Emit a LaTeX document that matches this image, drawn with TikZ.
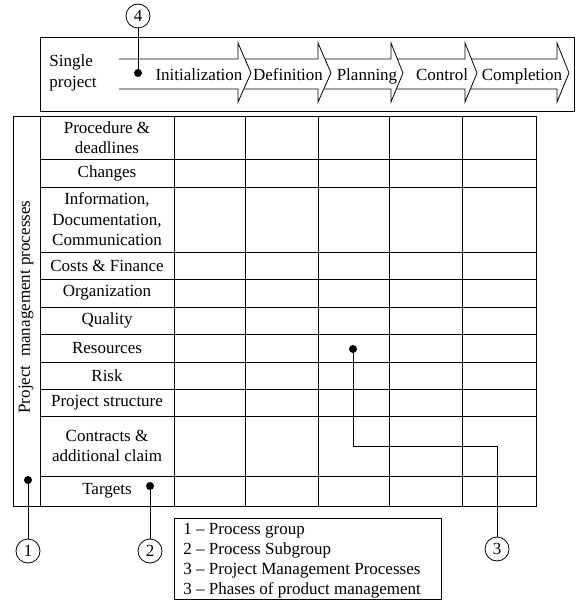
\documentclass[tikz,border=0pt]{standalone}
\usepackage{fontspec}
\setmainfont{Liberation Serif}
\begin{document}
\begin{tikzpicture}[x=1pt,y=-1pt, line width=0.8pt,
  txt/.style={font=\fontsize{17}{20.5}\selectfont, inner sep=0pt},
  cell/.style={txt, align=center},
  num/.style={circle, draw, minimum size=24pt, inner sep=0pt, font=\fontsize{17}{20}\selectfont},
  dot/.style={circle, fill, minimum size=8pt, inner sep=0pt},
  wire/.style={line width=0.8pt},
  arr/.style={draw, fill=white, line width=0.8pt, line join=miter}]
\useasboundingbox (0,0) rectangle (575,601);
% top box
\draw (40,37) rectangle (574,111);
% phase arrows (right to left so each head covers next tail)
\path[arr] (465,59) -- (557,59) -- (557,43) -- (569,73) -- (557,102) -- (557,89) -- (465,89);
\path[arr] (391,59) -- (465,59) -- (465,43) -- (477,73) -- (465,102) -- (465,89) -- (391,89);
\path[arr] (318,59) -- (391,59) -- (391,43) -- (403,73) -- (391,102) -- (391,89) -- (318,89);
\path[arr] (238,59) -- (318,59) -- (318,43) -- (331,73) -- (318,102) -- (318,89) -- (238,89);
\path[arr] (119,59) -- (238,59) -- (238,43) -- (251,73) -- (238,102) -- (238,89) -- (119,89);
\node[txt, anchor=base] (init) at (199,81) {Initialization};
\node[txt, anchor=base] (defn) at (288,81) {Definition};
\node[txt, anchor=base] (plan) at (367,81) {Planning};
\node[txt, anchor=base] (ctrl) at (442,81) {Control};
\node[txt, anchor=base] (compl) at (522,81) {Completion};
\node[txt, align=left, anchor=west] (sp) at (49,73) {Single\\project};
% table
\draw (13,116) rectangle (536,506);
\draw (40,116) -- (40,506);
\foreach \x in {174,245,318,389,462} \draw (\x,116) -- (\x,506);
\foreach \y in {159,187,252,279,307,334,362,389,416,476} \draw (40,\y) -- (536,\y);
\node[txt, rotate=90] (pmp) at (26,307) {Project\ \ management processes};
\node[cell] (r1) at (107,137.5) {Procedure \&\\deadlines};
\node[cell] (r2) at (107,173) {Changes};
\node[cell] (r3) at (107,219.5) {Information,\\Documentation,\\Communication};
\node[cell] (r4) at (107,265.5) {Costs \& Finance};
\node[cell] (r5) at (107,293) {Organization};
\node[cell] (r6) at (107,320.5) {Quality};
\node[cell] (r7) at (107,348) {Resources};
\node[cell] (r8) at (107,375.5) {Risk};
\node[cell] (r9) at (107,402.5) {Project structure};
\node[cell] (r10) at (107,446) {Contracts \&\\additional claim};
\node[cell] (r11) at (107,491) {Targets};
% markers
\node[dot] (d1) at (28,480) {};
\node[dot] (d2) at (150,486) {};
\node[dot] (d3) at (353,349) {};
\node[dot] (d4) at (138,73) {};
\node[num] (n1) at (28,551) {1};
\node[num] (n2) at (150,551) {2};
\node[num] (n3) at (497,549) {3};
\node[num] (n4) at (138,16) {4};
\coordinate (k3) at (497,446);
\draw[wire] (d1) -- (n1);
\draw[wire] (d2) -- (n2);
\draw[wire] (n4) -- (d4);
\draw[wire] (d3) |- (k3) -- (n3);
% legend
\node[draw, minimum width=267pt, minimum height=81pt, anchor=north west, inner sep=0pt] (leg) at (174,518) {};
\node[txt, anchor=base west] (l1) at (183,534) {1 – Process group};
\node[txt, anchor=base west] (l2) at (183,554) {2 – Process Subgroup};
\node[txt, anchor=base west] (l3) at (183,574) {3 – Project Management Processes};
\node[txt, anchor=base west] (l4) at (183,594) {3 – Phases of product management};
\end{tikzpicture}
\end{document}
